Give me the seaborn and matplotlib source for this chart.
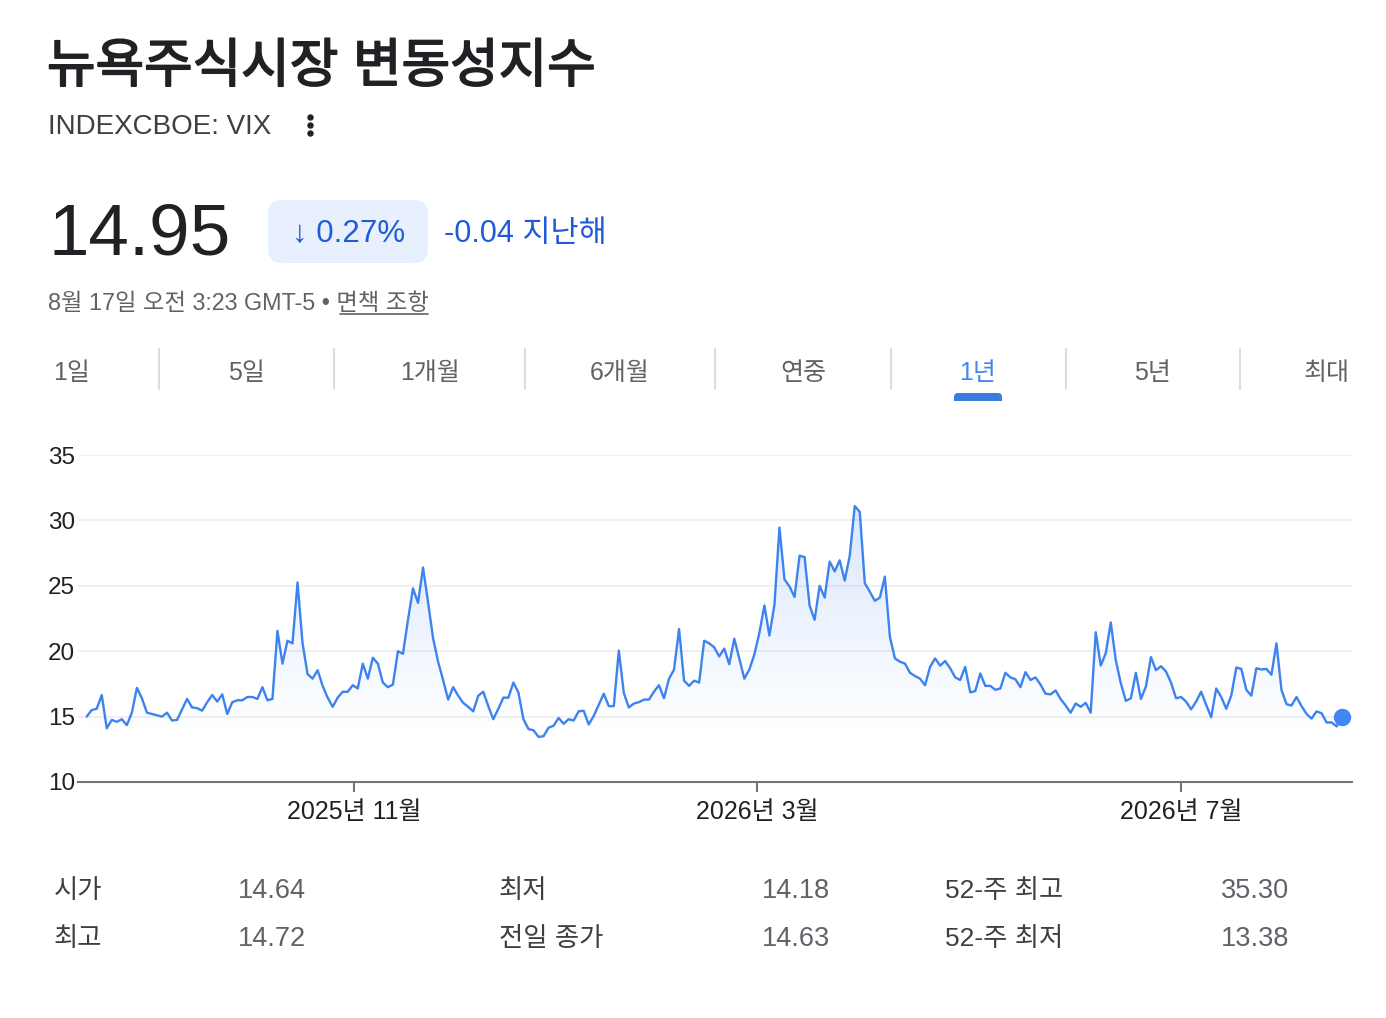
import numpy as np
import matplotlib
matplotlib.use("Agg")
import matplotlib.pyplot as plt
import matplotlib.colors as mcolors
import matplotlib.patheffects as pe
import seaborn as sns
from matplotlib.patches import FancyBboxPatch
from matplotlib.lines import Line2D
from matplotlib.transforms import IdentityTransform

# VIX 종가 (1년, 거래일 순서)
vix = [
    15.0, 15.5, 15.6, 16.65, 14.1, 14.75, 14.6, 14.8, 14.35, 15.3,
    17.2, 16.4, 15.3, 15.2, 15.1, 15.0, 15.3, 14.7, 14.75, 15.55,
    16.35, 15.7, 15.65, 15.45, 16.1, 16.65, 16.15, 16.7, 15.2, 16.1,
    16.25, 16.25, 16.5, 16.5, 16.35, 17.25, 16.25, 16.35, 21.55, 19.05,
    20.8, 20.6, 25.25, 20.6, 18.25, 17.9, 18.55, 17.35, 16.45, 15.75,
    16.45, 16.9, 16.9, 17.4, 17.15, 19.05, 17.9, 19.5, 19.05, 17.6,
    17.25, 17.45, 20.0, 19.8, 22.4, 24.8, 23.7, 26.4, 23.75, 21.0,
    19.2, 17.8, 16.3, 17.25, 16.6, 16.05, 15.75, 15.4, 16.6, 16.9,
    15.8, 14.8, 15.6, 16.45, 16.45, 17.6, 16.85, 14.8, 14.05, 13.95,
    13.45, 13.5, 14.15, 14.3, 14.9, 14.45, 14.8, 14.7, 15.4, 15.45,
    14.4, 15.05, 15.9, 16.75, 15.8, 15.8, 20.05, 16.8, 15.7, 16.0,
    16.1, 16.3, 16.3, 16.9, 17.4, 16.4, 17.9, 18.6, 21.7, 17.75,
    17.35, 17.75, 17.6, 20.8, 20.6, 20.3, 19.6, 20.2, 19.0, 20.95,
    19.45, 17.9, 18.6, 19.75, 21.4, 23.5, 21.2, 23.55, 29.45, 25.5,
    24.95, 24.15, 27.3, 27.2, 23.5, 22.4, 25.0, 24.1, 26.85, 26.1,
    26.95, 25.4, 27.3, 31.1, 30.65, 25.2, 24.55, 23.85, 24.1, 25.7,
    21.1, 19.45, 19.2, 19.05, 18.35, 18.1, 17.9, 17.4, 18.8, 19.45,
    18.9, 19.25, 18.7, 18.0, 17.8, 18.8, 16.85, 16.95, 18.3, 17.35,
    17.35, 17.05, 17.15, 18.35, 18.0, 17.85, 17.25, 18.4, 17.8, 18.0,
    17.45, 16.75, 16.7, 17.0, 16.35, 15.85, 15.3, 16.0, 15.75, 16.05,
    15.3, 21.45, 18.9, 19.85, 22.2, 19.3, 17.55, 16.2, 16.4, 18.35,
    16.35, 17.3, 19.55, 18.55, 18.85, 18.45, 17.6, 16.4, 16.5, 16.15,
    15.55, 16.15, 16.9, 15.9, 14.95, 17.15, 16.5, 15.6, 16.6, 18.75,
    18.65, 17.05, 16.6, 18.7, 18.6, 18.65, 18.2, 20.6, 17.05, 15.95,
    15.85, 16.5, 15.8, 15.2, 14.85, 15.4, 15.25, 14.55, 14.55, 14.25,
    14.95,
]
x_labels = ["2025년 11월", "2026년 3월", "2026년 7월"]
x_label_pos = [53.2, 133.5, 218.0]
y_ticks = [10, 15, 20, 25, 30, 35]

tabs = ["1일", "5일", "1개월", "6개월", "연중", "1년", "5년", "최대"]
active_tab = "1년"

stat_names = [["시가", "최고"], ["최저", "전일 종가"], ["52-주 최고", "52-주 최저"]]
stat_values = [["14.64", "14.72"], ["14.18", "14.63"], ["35.30", "13.38"]]

W, H = 1386, 1018
BLUE_LINE = "#4285f4"
BLUE_TXT = "#1f5bd6"
DARK = "#202124"
GREY = "#5f6368"
FONTS = ["Liberation Sans", "Noto Sans CJK KR", "DejaVu Sans"]

sns.set_theme(style="white")
plt.rcParams["font.family"] = FONTS

fig = plt.figure(figsize=(W / 100, H / 100), dpi=100)
fig.patch.set_facecolor("white")


def put(x, y, s, size, color=DARK, ha="left", **kw):
    # x, y in screen pixels measured from the top-left corner
    return fig.text(x / W, 1 - y / H, s, fontsize=size, color=color, ha=ha, va="center", **kw)


# header
title = put(47, 68, "뉴욕주식시장 변동성지수", 38, DARK)
title.set_path_effects([pe.withStroke(linewidth=1.3, foreground=DARK)])
put(48, 127, "INDEXCBOE: VIX", 20, "#3c4043")
for dy in (-8, 0, 8):
    fig.add_artist(Line2D([310], [H - 125 - dy], marker="o", ms=3.6, color=DARK,
                          transform=IdentityTransform()))

put(49, 236, "14.95", 52.5, DARK)
fig.add_artist(FancyBboxPatch((268 + 14, H - 263 + 14), 160 - 28, 63 - 28,
                              boxstyle="round,pad=14,rounding_size=14",
                              facecolor="#e8f0fe", edgecolor="none",
                              transform=IdentityTransform()))
put(349, 234, "↓ 0.27%", 22.5, BLUE_TXT, ha="center")
put(444, 234, "-0.04 지난해", 22, BLUE_TXT)

put(48, 304, "8월 17일 오전 3:23 GMT-5 • 면책 조항", 16.8, GREY)
fig.add_artist(Line2D([340, 428], [H - 314, H - 314], lw=1.2, color=GREY,
                      transform=IdentityTransform()))

# range tabs
tab_x = [72, 246, 430, 620, 803, 978, 1152, 1327]
sep_x = [159, 334, 525, 715, 891, 1066, 1240]
for t, tx in zip(tabs, tab_x):
    put(tx, 373, t, 18, BLUE_LINE if t == active_tab else GREY, ha="center")
for sx in sep_x:
    fig.add_artist(Line2D([sx, sx], [H - 349, H - 389], lw=1.5, color="#dadce0",
                          transform=IdentityTransform()))
fig.add_artist(FancyBboxPatch((954 + 4, H - 405 + 4), 48 - 8, 12 - 8,
                              boxstyle="round,pad=4,rounding_size=4",
                              facecolor="#3a7be0", edgecolor="none",
                              transform=IdentityTransform()))
fig.add_artist(FancyBboxPatch((940, H - 412), 80, 11, boxstyle="square,pad=0",
                              facecolor="white", edgecolor="none",
                              transform=IdentityTransform()))

# chart
ax = fig.add_axes([78 / W, 1 - 782 / H, (1352 - 78) / W, (782 - 455) / H])
idx = np.arange(len(vix))
vals = np.array(vix)

fill = ax.fill_between(idx, vals, 10, facecolor="none", edgecolor="none")
lv = np.linspace(10, 35, 256)
grad = np.zeros((256, 1, 4))
grad[..., :3] = mcolors.to_rgb(BLUE_LINE)
grad[:, 0, 3] = np.clip((lv - 13.5) / 18, 0, 1) * 0.2
img = ax.imshow(grad, extent=[idx[0], idx[-1], 10, 35], origin="lower",
                aspect="auto", zorder=1, interpolation="bilinear")
img.set_clip_path(fill.get_paths()[0], transform=ax.transData)

sns.lineplot(x=idx, y=vals, ax=ax, color="#3d83ef", linewidth=1.7, zorder=3)
ax.plot([idx[-1]], [vals[-1]], "o", ms=11.5, color=BLUE_LINE, clip_on=False, zorder=5)

ax.set_xlim(-1.73, 252.05)
ax.set_ylim(10, 35)
ax.set_yticks(y_ticks)
ax.set_yticklabels([str(v) for v in y_ticks])
ax.set_xticks(x_label_pos)
ax.set_xticklabels(x_labels)
ax.set_xlabel("")
ax.set_ylabel("")
ax.grid(axis="y", color="#eeeeee", lw=1.2)
ax.grid(axis="x", visible=False)
for s in ("top", "right", "left"):
    ax.spines[s].set_visible(False)
ax.spines["bottom"].set_color("#70757a")
ax.spines["bottom"].set_linewidth(1.5)
ax.tick_params(axis="x", direction="out", length=7, width=1.5, color="#70757a",
               labelsize=18, labelcolor=DARK, pad=6, bottom=True)
ax.tick_params(axis="y", length=0, labelsize=17.5, labelcolor=DARK, pad=2)
ax.set_facecolor("none")

# stats table
col_name_x = [54, 499, 945]
col_val_x = [238, 762, 1221]
row_y = [891, 939]
for c in range(3):
    for r in range(2):
        put(col_name_x[c], row_y[r], stat_names[c][r], 19, "#3c4043")
        put(col_val_x[c], row_y[r], stat_values[c][r], 19.5, GREY)

fig.savefig("out.png", dpi=100)
